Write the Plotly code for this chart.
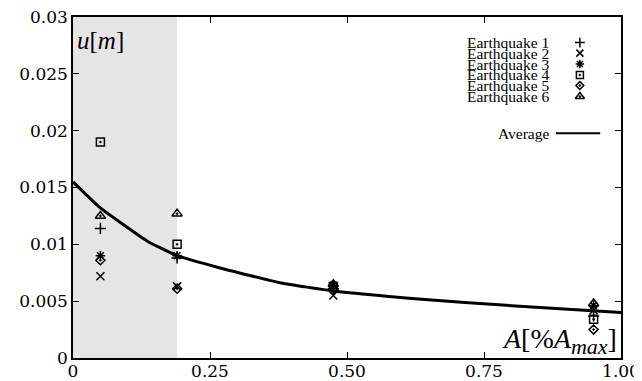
import plotly.graph_objects as go

# Data
x_levels = [0.05, 0.19, 0.475, 0.95]
eq_names = ["Earthquake 1", "Earthquake 2", "Earthquake 3", "Earthquake 4", "Earthquake 5", "Earthquake 6"]
eq1 = [0.0114, 0.0088, 0.0061, 0.0037]
eq2 = [0.0072, 0.0063, 0.0055, 0.0042]
eq3 = [0.0090, 0.0090, 0.0064, 0.0046]
eq4 = [0.0190, 0.0100, 0.0063, 0.0034]
eq5 = [0.0086, 0.0061, 0.0060, 0.0025]
eq6 = [0.0125, 0.0127, 0.0065, 0.0048]
avg_x = [0.0, 0.05, 0.135, 0.19, 0.27, 0.38, 0.475, 0.63, 0.8, 1.0]
avg_y = [0.0155, 0.0132, 0.0103, 0.0090, 0.0079, 0.0066, 0.0059, 0.0052, 0.0046, 0.0040]
shade_end = 0.19
x_ticks = [0, 0.25, 0.5, 0.75, 1.0]
x_tick_labels = ["0", "0.25", "0.50", "0.75", "1.00"]
y_ticks = [0, 0.005, 0.01, 0.015, 0.02, 0.025, 0.03]
y_tick_labels = ["0", "0.005", "0.01", "0.015", "0.02", "0.025", "0.03"]

series = [eq1, eq2, eq3, eq4, eq5, eq6]
symbols = ["cross-thin-open", "x-thin-open", "asterisk-open", "square-open-dot", "diamond-open-dot", "triangle-up-open-dot"]
sizes = [8, 8, 8, 8, 7, 9]

SERIF = "Liberation Serif"
TICKFONT = "DejaVu Serif"
fig = go.Figure()

for name, vals, sym, sz in zip(eq_names, series, symbols, sizes):
    fig.add_trace(go.Scatter(x=x_levels, y=vals, mode="markers", name=name,
                             marker=dict(symbol=sym, size=sz, color="black",
                                         line=dict(color="black", width=1.5)),
                             showlegend=False))

fig.add_trace(go.Scatter(x=avg_x, y=avg_y, mode="lines", name="Average",
                         line=dict(color="black", width=3, shape="spline", smoothing=0.4),
                         showlegend=False))

# manual legend (text left, symbol right) on an overlay axis
leg_y = [0.925, 0.894, 0.862, 0.830, 0.799, 0.767]
for name, sym, sz, ly in zip(eq_names, symbols, sizes, leg_y):
    fig.add_annotation(x=0.872, y=ly, xref="paper", yref="paper", text=name,
                       showarrow=False, xanchor="right", yanchor="middle",
                       font=dict(family=SERIF, size=15.5, color="black"))
    fig.add_trace(go.Scatter(x=[0.925], y=[ly], xaxis="x2", yaxis="y2", mode="markers",
                             marker=dict(symbol=sym, size=sz - 1, color="black",
                                         line=dict(color="black", width=1.5)),
                             showlegend=False, hoverinfo="skip"))
fig.add_annotation(x=0.872, y=0.659, xref="paper", yref="paper", text="Average",
                   showarrow=False, xanchor="right", yanchor="middle",
                   font=dict(family=SERIF, size=15.5, color="black"))
fig.add_trace(go.Scatter(x=[0.881, 0.962], y=[0.659, 0.659], xaxis="x2", yaxis="y2", mode="lines",
                         line=dict(color="black", width=2), showlegend=False, hoverinfo="skip"))

fig.add_shape(type="rect", x0=0, x1=shade_end, xref="x", y0=0, y1=1, yref="paper",
              fillcolor="#e5e5e5", line=dict(width=0), layer="below")

fig.add_annotation(x=0.004, y=0.93, xref="paper", yref="paper",
                   text="<i>u</i>[<i>m</i>]", showarrow=False, xanchor="left", yanchor="middle",
                   font=dict(family=SERIF, size=25, color="black"))
fig.add_annotation(x=0.996, y=0.05, xref="paper", yref="paper",
                   text="<i>A</i>[%<i>A</i><sub><span style='font-size:22px'><i>max</i></span></sub>]",
                   showarrow=False, xanchor="right", yanchor="middle",
                   font=dict(family=SERIF, size=28, color="black"))

axis_common = dict(showgrid=False, zeroline=False, showline=True, linecolor="black", linewidth=1.5,
                   mirror="ticks", ticks="inside", ticklen=6, tickwidth=1.2, tickcolor="black",
                   automargin=False, ticklabeloverflow="allow",
                   tickfont=dict(family=TICKFONT, size=17, color="black"))

# page body adds an 8px offset, so the figure is sized to fit inside the window
fig.update_layout(
    width=634, height=373,
    margin=dict(l=65, r=21, t=9, b=23),
    plot_bgcolor="white", paper_bgcolor="white",
    xaxis=dict(range=[0, 1], tickvals=x_ticks, ticktext=x_tick_labels, ticklabelstandoff=-3,
               **axis_common),
    yaxis=dict(range=[0, 0.03], tickvals=y_ticks, ticktext=y_tick_labels, **axis_common),
    xaxis2=dict(range=[0, 1], overlaying="x", visible=False, domain=[0, 1]),
    yaxis2=dict(range=[0, 1], overlaying="y", visible=False),
    showlegend=False,
)

fig.write_html("out.html")
